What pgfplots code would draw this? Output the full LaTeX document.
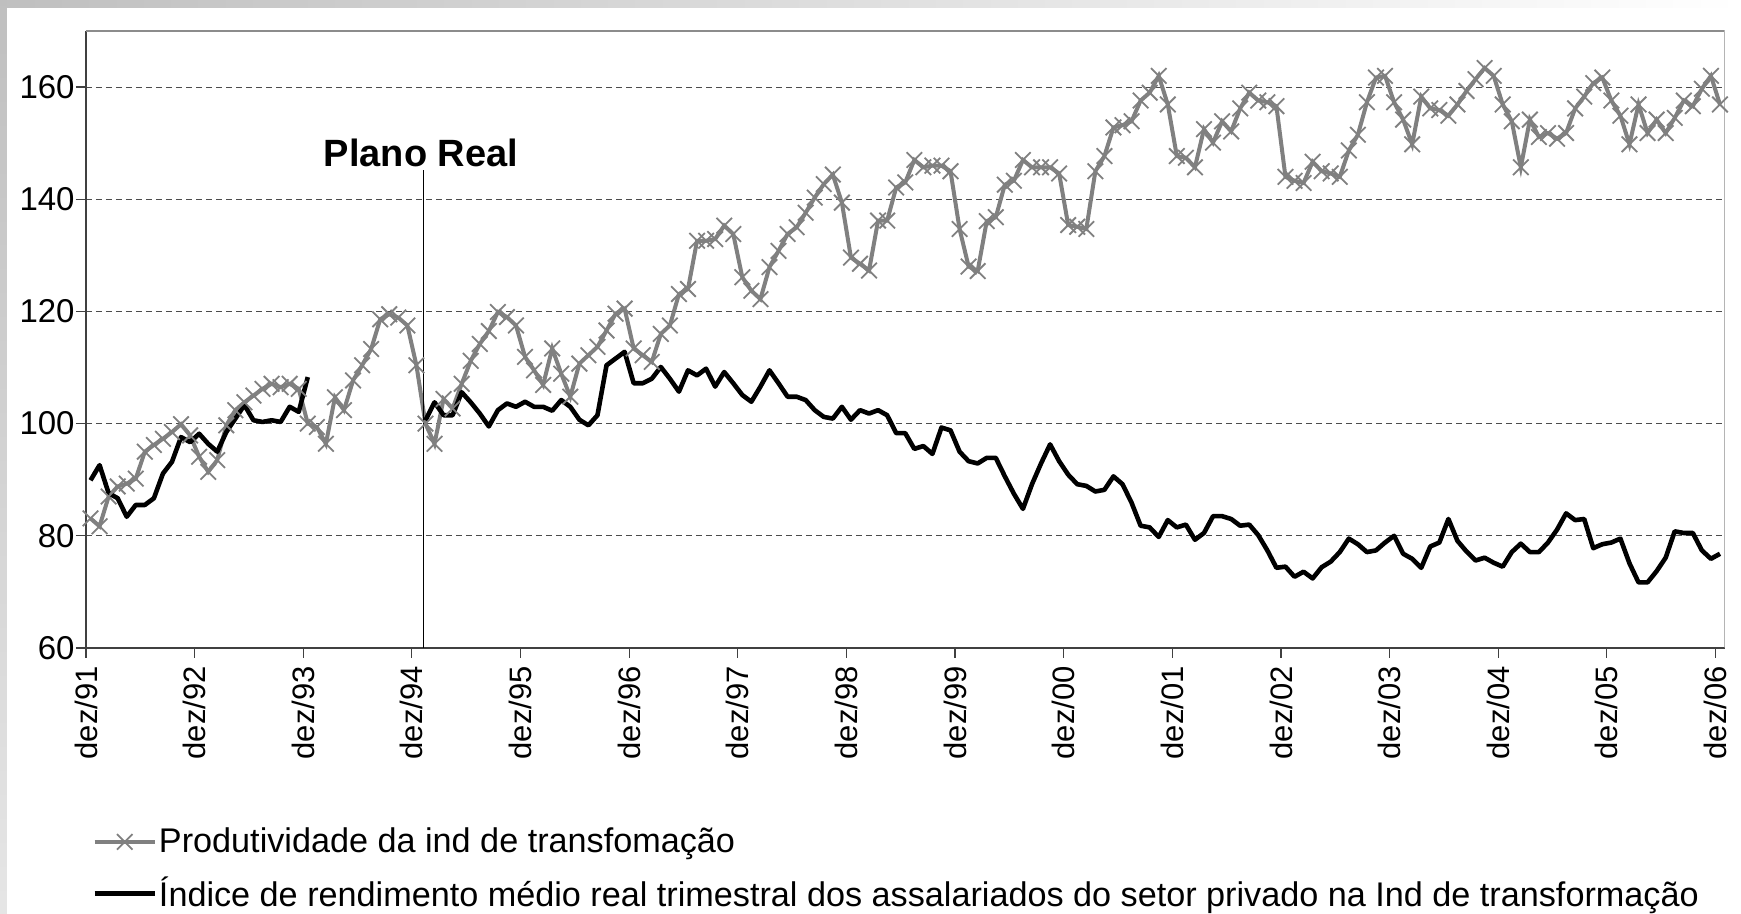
\documentclass[border=0pt]{standalone}
\usepackage{fontspec}
\setmainfont{Liberation Sans}
\usepackage{pgfplots}
\usepackage{pgfplotstable}
\pgfplotsset{compat=1.18}

\definecolor{serie}{HTML}{808080}

% produtividade (mensal, dez/91 = 0)
\pgfplotstableread{
k v
0 83.1
1 81.7
2 87.0
3 88.8
4 89.3
5 90.2
6 95.0
7 96.2
8 97.3
9 98.5
10 99.9
11 97.9
12 94.1
13 91.4
14 93.5
15 99.7
16 102.4
17 103.8
18 105.0
19 106.2
20 107.1
21 106.5
22 107.1
23 106.2
24 100.0
25 99.4
26 96.4
27 104.7
28 102.4
29 107.7
30 110.4
31 113.3
32 118.6
33 119.5
34 118.9
35 117.5
36 110.4
37 100.0
38 96.4
39 104.4
40 102.7
41 107.1
42 111.2
43 114.2
44 116.5
45 119.9
46 119.0
47 117.5
48 111.9
49 109.5
50 106.9
51 113.4
52 108.9
53 104.8
54 110.7
55 112.2
56 113.7
57 116.6
58 119.6
59 120.5
60 113.4
61 112.2
62 111.0
63 116.0
64 117.5
65 123.1
66 124.0
67 132.6
68 132.6
69 132.9
70 135.3
71 133.8
72 126.1
73 123.7
74 122.2
75 127.9
76 130.8
77 133.8
78 135.0
79 137.6
80 140.3
81 142.7
82 144.4
83 139.4
84 129.6
85 128.5
86 127.3
87 136.2
88 136.2
89 142.1
90 143.0
91 147.0
92 145.7
93 146.0
94 146.0
95 145.0
96 134.7
97 128.0
98 127.2
99 136.1
100 136.8
101 142.6
102 143.3
103 147.0
104 145.7
105 145.7
106 145.7
107 144.6
108 135.4
109 135.1
110 134.7
111 145.0
112 147.7
113 152.8
114 153.2
115 153.9
116 157.6
117 159.0
118 162.0
119 156.9
120 147.7
121 147.4
122 145.7
123 152.5
124 150.1
125 153.9
126 152.1
127 156.2
128 159.0
129 157.6
130 157.3
131 156.6
132 144.0
133 143.3
134 142.9
135 146.7
136 145.0
137 144.6
138 144.0
139 148.7
140 151.5
141 157.3
142 161.7
143 162.0
144 157.3
145 154.2
146 149.8
147 158.3
148 156.2
149 155.9
150 154.9
151 156.9
152 159.3
153 161.4
154 163.4
155 162.0
156 156.9
157 153.9
158 145.7
159 154.2
160 151.1
161 151.8
162 150.8
163 151.8
164 156.2
165 158.3
166 160.7
167 161.7
168 157.6
169 154.9
170 149.8
171 156.9
172 151.8
173 154.2
174 151.8
175 154.5
176 157.6
177 156.6
178 159.7
179 162.0
180 156.9
}\produtividade

% rendimento medio real (sem dados entre 25 e 36)
\pgfplotstableread{
k v
0 89.9
1 92.6
2 87.6
3 86.7
4 83.4
5 85.5
6 85.5
7 86.7
8 91.1
9 93.2
10 97.6
11 96.7
12 98.2
13 96.4
14 95.0
15 98.5
16 100.9
17 103.3
18 100.6
19 100.3
20 100.6
21 100.3
22 103.0
23 102.1
24 108.3
25 nan
36 nan
37 100.6
38 103.8
39 101.5
40 101.5
41 105.6
42 103.8
43 101.8
44 99.5
45 102.4
46 103.6
47 103.0
48 103.9
49 103.0
50 103.0
51 102.3
52 104.2
53 103.0
54 100.7
55 99.7
56 101.5
57 110.4
58 111.6
59 112.8
60 107.2
61 107.2
62 108.0
63 110.1
64 108.0
65 105.7
66 109.5
67 108.6
68 109.8
69 106.6
70 109.2
71 107.2
72 105.1
73 103.9
74 106.6
75 109.5
76 107.2
77 104.8
78 104.8
79 104.2
80 102.4
81 101.2
82 100.9
83 103.0
84 100.7
85 102.4
86 101.8
87 102.4
88 101.5
89 98.3
90 98.3
91 95.5
92 96.0
93 94.6
94 99.3
95 98.8
96 95.0
97 93.3
98 92.9
99 93.9
100 93.9
101 90.6
102 87.5
103 84.8
104 89.2
105 92.9
106 96.3
107 93.3
108 90.9
109 89.2
110 88.9
111 87.9
112 88.2
113 90.6
114 89.2
115 85.9
116 81.8
117 81.5
118 79.8
119 82.8
120 81.5
121 82.0
122 79.3
123 80.5
124 83.5
125 83.5
126 83.0
127 81.8
128 82.0
129 80.1
130 77.4
131 74.3
132 74.5
133 72.7
134 73.6
135 72.4
136 74.4
137 75.4
138 77.1
139 79.5
140 78.5
141 77.1
142 77.4
143 78.8
144 80.0
145 76.8
146 75.9
147 74.3
148 78.1
149 78.8
150 83.0
151 79.1
152 77.2
153 75.6
154 76.1
155 75.2
156 74.5
157 77.1
158 78.6
159 77.1
160 77.1
161 78.8
162 81.1
163 84.0
164 82.8
165 83.0
166 77.8
167 78.5
168 78.8
169 79.5
170 75.1
171 71.7
172 71.7
173 73.7
174 76.1
175 80.8
176 80.5
177 80.5
178 77.4
179 75.9
180 76.8
}\rendimento

\begin{document}
\begin{tikzpicture}
\path[use as bounding box] (-43pt,-133pt) rectangle (827.5pt,324pt);
\fill[white] (-43pt,-133pt) rectangle (827.5pt,324pt);
\shade[left color=black!25, right color=white] (-43pt,320pt) rectangle (827.5pt,324pt);
\shade[top color=black!25, bottom color=black!10] (-43pt,-133pt) rectangle (-39.5pt,324pt);
\begin{axis}[
  at={(0pt,0pt)}, anchor=south west,
  scale only axis, width=819.25pt, height=308.5pt,
  xmin=-0.5, xmax=180.5, ymin=60, ymax=170,
  axis x line*=bottom, axis y line*=left,
  axis line style={black!75, line width=0.8pt},
  xtick={-0.5,11.5,...,179.5},
  xticklabels={dez/91,dez/92,dez/93,dez/94,dez/95,dez/96,dez/97,dez/98,dez/99,dez/00,dez/01,dez/02,dez/03,dez/04,dez/05,dez/06},
  ytick={60,80,...,160},
  tick align=outside, major tick length=5pt,
  tick style={black!75, line width=0.6pt},
  ymajorgrids,
  grid style={black!70, line width=0.5pt, dash pattern=on 3pt off 2pt},
  ticklabel style={font=\fontsize{15.5}{18}\selectfont},
  /pgf/number format/assume math mode=true,
  xticklabel style={inner sep=0pt, yshift=-4pt, rotate=90, anchor=east},
  yticklabel style={inner sep=0pt, xshift=-0.5pt, anchor=east,
    font=\fontsize{16.5}{19}\selectfont},
  unbounded coords=jump,
  legend cell align=left,
  legend image code/.code={
    \draw[mark repeat=2, mark phase=2, #1] plot coordinates {(0pt,0pt) (15pt,0pt) (30pt,0pt)};
  },
  legend style={at={(axis description cs:0,0)}, anchor=north west,
    xshift=3pt, yshift=-88.8pt, draw=none, fill=none, inner sep=0pt,
    row sep=8.7pt, font=\fontsize{17.1}{20}\selectfont,
    nodes={inner sep=1pt}},
]
\addplot[serie, line width=2pt, mark=x, mark size=5.5pt,
  mark options={solid, line width=0.9pt, draw=serie}]
  table[x=k, y=v] {\produtividade};
\addlegendentry{Produtividade da ind de transfomação}
\addplot[black, line width=2.3pt, line join=round]
  table[x=k, y=v] {\rendimento};
\addlegendentry{Índice de rendimento médio real trimestral dos assalariados do setor privado na Ind de transformação}
\draw[black!45, line width=0.8pt] (rel axis cs:0,1) -- (rel axis cs:1,1) -- (rel axis cs:1,0);
\draw[black, line width=0.7pt] (axis cs:36.8,60) -- (axis cs:36.8,145.3);
\node[font=\bfseries\fontsize{19}{22}\selectfont] at (axis cs:36.5,148.2) {Plano Real};
\end{axis}
\end{tikzpicture}
\end{document}
